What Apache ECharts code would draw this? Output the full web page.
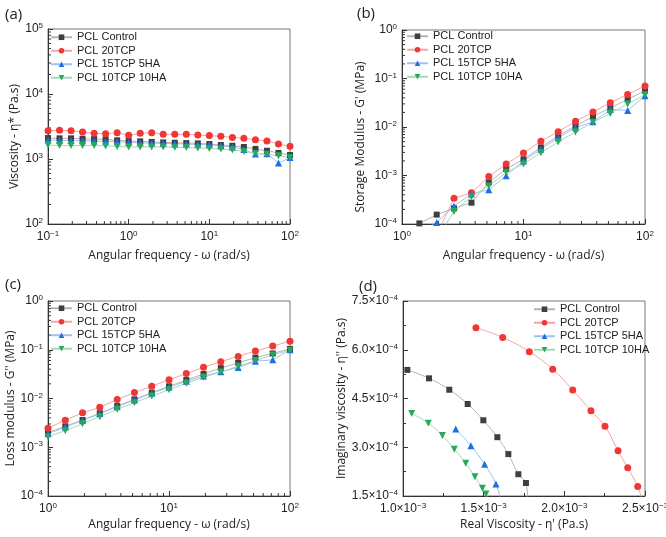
<!DOCTYPE html>
<html>
<head>
<meta charset="utf-8">
<script src="https://cdn.jsdelivr.net/npm/echarts@6/dist/echarts.min.js"></script>
<style>
  html, body { margin: 0; padding: 0; background: #fff; }
  #chart { width: 666px; height: 537px; }
</style>
</head>
<body>
<div id="chart"></div>
<script>
// series names / symbols
const names = ['PCL Control', 'PCL 20TCP', 'PCL 15TCP 5HA', 'PCL 10TCP 10HA'];

// (a) complex viscosity vs angular frequency
const omegaA = [0.1, 0.139, 0.193, 0.268, 0.373, 0.518, 0.72, 1, 1.39, 1.93, 2.68, 3.73, 5.18, 7.2, 10, 13.9, 19.3, 26.8, 37.3, 51.8, 72, 100];
const ctrlA = [2100, 2080, 2080, 2050, 2030, 2010, 1940, 1890, 1870, 1830, 1800, 1780, 1760, 1740, 1700, 1640, 1600, 1530, 1430, 1340, 1240, 1150];
const tcpA = [2730, 2760, 2730, 2600, 2480, 2450, 2540, 2310, 2480, 2540, 2400, 2400, 2400, 2340, 2290, 2230, 2150, 2080, 1980, 1890, 1700, 1570];
const ha5A = [1960, 1950, 1920, 1910, 1890, 1870, 1850, 1800, 1780, 1760, 1740, 1720, 1700, 1680, 1650, 1600, 1530, 1400, 1190, 1200, 870, 1050];
const ha10A = [1640, 1610, 1610, 1610, 1610, 1590, 1560, 1530, 1530, 1530, 1530, 1510, 1500, 1480, 1450, 1420, 1380, 1310, 1220, 1180, 1120, 1050];

// (b) storage modulus
const omegaB = [1, 1.39, 1.93, 2.68, 3.73, 5.18, 7.2, 10, 13.9, 19.3, 26.8, 37.3, 51.8, 72, 100];
const ctrlB = [5e-5, 1.03e-4, 1.56e-4, 2.1e-4, 2.75e-4, 7.2e-4, 1.36e-3, 2.16e-3, 3.8e-3, 6.6e-3, 1.05e-2, 1.63e-2, 2.5e-2, 3.7e-2, 5.6e-2];
const tcpB = [3e-5, 5e-5, 6e-5, 3.4e-4, 4.4e-4, 9.5e-4, 1.73e-3, 2.9e-3, 5.1e-3, 8.0e-3, 1.31e-2, 2.04e-2, 3.17e-2, 4.7e-2, 7.0e-2];
const ha5B = [4e-5, 7e-5, 1.08e-4, 2.36e-4, 4.16e-4, 5.1e-4, 9.9e-4, 2.0e-3, 3.47e-3, 6.0e-3, 9.7e-3, 1.28e-2, 2.3e-2, 2.2e-2, 4.4e-2];
const ha10B = [3e-5, 4e-5, 5e-5, 1.8e-4, 3.65e-4, 6.1e-4, 1.16e-3, 1.73e-3, 2.95e-3, 4.9e-3, 7.9e-3, 1.25e-2, 1.9e-2, 2.98e-2, 4.6e-2];

// (c) loss modulus
const omegaC = [1, 1.39, 1.93, 2.68, 3.73, 5.18, 7.2, 10, 13.9, 19.3, 26.8, 37.3, 51.8, 72, 100];
const ctrlC = [1.99e-3, 2.69e-3, 3.62e-3, 5.0e-3, 7.0e-3, 9.6e-3, 1.32e-2, 1.78e-2, 2.39e-2, 3.18e-2, 4.2e-2, 5.4e-2, 6.9e-2, 8.4e-2, 0.104];
const tcpC = [2.45e-3, 3.6e-3, 5.1e-3, 6.6e-3, 9.5e-3, 1.32e-2, 1.78e-2, 2.43e-2, 3.24e-2, 4.37e-2, 5.7e-2, 7.3e-2, 9.4e-2, 0.119, 0.149];
const ha5C = [1.9e-3, 2.6e-3, 3.55e-3, 4.9e-3, 6.8e-3, 9.3e-3, 1.28e-2, 1.7e-2, 2.25e-2, 2.9e-2, 3.55e-2, 4.3e-2, 5.8e-2, 6.2e-2, 0.1];
const ha10C = [1.65e-3, 2.19e-3, 3.04e-3, 4.24e-3, 6.0e-3, 8.2e-3, 1.12e-2, 1.51e-2, 2.05e-2, 2.72e-2, 3.5e-2, 4.57e-2, 6.0e-2, 7.8e-2, 0.098];

// (d) Cole-Cole: real vs imaginary viscosity
const ctrlDx = [1.027e-3, 1.161e-3, 1.287e-3, 1.401e-3, 1.498e-3, 1.585e-3, 1.653e-3, 1.715e-3, 1.762e-3, 1.775e-3];
const ctrlDy = [5.38e-4, 5.12e-4, 4.77e-4, 4.33e-4, 3.83e-4, 3.31e-4, 2.79e-4, 2.17e-4, 1.90e-4, 1.2e-4];
const tcpDx = [1.452e-3, 1.618e-3, 1.783e-3, 1.928e-3, 2.052e-3, 2.165e-3, 2.252e-3, 2.333e-3, 2.393e-3, 2.455e-3, 2.49e-3];
const tcpDy = [6.68e-4, 6.38e-4, 5.94e-4, 5.40e-4, 4.76e-4, 4.12e-4, 3.65e-4, 2.89e-4, 2.37e-4, 1.79e-4, 1.2e-4];
const ha5Dx = [1.327e-3, 1.421e-3, 1.506e-3, 1.576e-3, 1.615e-3];
const ha5Dy = [3.56e-4, 3.05e-4, 2.475e-4, 1.87e-4, 1.2e-4];
const ha10Dx = [1.054e-3, 1.157e-3, 1.244e-3, 1.318e-3, 1.389e-3, 1.446e-3, 1.492e-3, 1.514e-3, 1.535e-3];
const ha10Dy = [4.04e-4, 3.74e-4, 3.36e-4, 2.94e-4, 2.51e-4, 2.09e-4, 1.74e-4, 1.56e-4, 1.2e-4];

const symbols = ['rect', 'circle', 'triangle', 'path://M0,0L10,0L5,8.66Z'];
const symbolSizes = [6, 7, 7, 7];
const markColors = ['#3f3f3f', '#f23535', '#1c6fe8', '#27a85a'];
const lineColors = ['#b5b5b5', '#f6a3a3', '#9cc2f2', '#a3dbb6'];

const chart = echarts.init(document.getElementById('chart'));

const zip = (xs, ys) => xs.map((x, i) => [x, ys[i]]);

function sup(e) {
  return e < 0 ? '\u2212' + (-e) : '' + e;
}
function powLabel(v) {
  const e = Math.round(Math.log10(v));
  return '10{s|' + sup(e) + '}';
}
const rich = {
  s: { fontSize: 8, verticalAlign: 'top', padding: [0, 0, 6, 0], fontFamily: 'Liberation Sans', color: '#222' },
  gap: { width: 20, color: 'rgba(0,0,0,0)' }
};

const labelFont = 'Liberation Sans';
const nameFont = 'Open Sans';
const nameStyle = { fontFamily: nameFont, fontSize: 12, color: '#222', rich: rich };

function logAxis(idx, min, max, name, gap, isX) {
  return {
    type: 'log', logBase: 10, gridIndex: idx, min: min, max: max,
    name: name, nameLocation: 'middle', nameGap: gap,
    nameTextStyle: nameStyle,
    axisLine: { show: true, lineStyle: { color: '#333', width: 1 } },
    axisTick: { show: true, inside: true, length: 5, lineStyle: { color: '#333' } },
    splitLine: { show: false },
    axisLabel: { formatter: powLabel, rich: rich, fontFamily: labelFont, fontSize: 12, color: '#222', margin: isX ? 6 : 5 }
  };
}

function sciAxis(idx, min, max, interval, exp, name, gap, isX) {
  return {
    type: 'value', gridIndex: idx, min: min, max: max, interval: interval,
    name: name, nameLocation: 'middle', nameGap: gap,
    nameTextStyle: nameStyle,
    axisLine: { show: true, lineStyle: { color: '#333', width: 1 } },
    axisTick: { show: true, inside: true, length: 5, lineStyle: { color: '#333' } },
    minorTick: { show: true, splitNumber: 2, length: 3, lineStyle: { color: '#333' } },
    splitLine: { show: false },
    axisLabel: {
      formatter: function (v) { return (v / Math.pow(10, exp)).toFixed(1) + '\u00d710{s|' + sup(exp) + '}'; },
      rich: rich, fontFamily: labelFont, fontSize: 12, color: '#222', margin: isX ? 6 : 5
    }
  };
}

function line(idx, k, data, smooth) {
  return {
    name: names[k], type: 'line', xAxisIndex: idx, yAxisIndex: idx,
    data: data, symbol: symbols[k], symbolSize: symbolSizes[k],
    smooth: smooth ? 0.4 : false,
    itemStyle: { color: markColors[k] },
    lineStyle: { color: lineColors[k], width: 1 },
    clip: true, animation: false
  };
}

// minor ticks of the log axes (2..9 x 10^k), drawn through the axis scales
function decadeTicks(lo, hi) {
  const out = [];
  for (let e = lo; e < hi; e++) {
    for (let m = 2; m <= 9; m++) out.push(m * Math.pow(10, e));
  }
  return out;
}
function minorTicks(idx, xLo, xHi, yLo, yHi) {
  const xMin = Math.pow(10, xLo), yMin = Math.pow(10, yLo);
  const data = decadeTicks(xLo, xHi).map(v => [v, yMin, 0])
    .concat(decadeTicks(yLo, yHi).map(v => [xMin, v, 1]));
  return {
    type: 'custom', xAxisIndex: idx, yAxisIndex: idx, silent: true, animation: false, clip: false,
    data: data,
    renderItem: function (params, api) {
      const p = api.coord([api.value(0), api.value(1)]);
      const vertical = api.value(2) === 0;
      return {
        type: 'line',
        shape: vertical ? { x1: p[0], y1: p[1], x2: p[0], y2: p[1] - 3 } : { x1: p[0], y1: p[1], x2: p[0] + 3, y2: p[1] },
        style: { stroke: '#333', lineWidth: 1 }
      };
    }
  };
}

function legend(left, top) {
  return {
    data: names, orient: 'vertical', left: left, top: top,
    itemWidth: 21, itemHeight: 7, itemGap: 1,
    textStyle: { fontFamily: labelFont, fontSize: 11, color: '#222', lineHeight: 12.5 },
    selectedMode: false
  };
}

const gridBox = { show: true, borderColor: '#777', borderWidth: 1, containLabel: false, outerBoundsMode: 'none' };

const option = {
  backgroundColor: '#fff',
  title: [
    { text: '(a)', left: 0, top: 2 },
    { text: '(b)', left: 352, top: 1 },
    { text: '(c)', left: 0, top: 272 },
    { text: '(d)', left: 354, top: 274 }
  ].map(t => Object.assign(t, { textStyle: { fontFamily: nameFont, fontSize: 15, fontWeight: 'normal', color: '#222' } })),
  legend: [legend(45, 26), legend(401, 25), legend(45, 297), legend(528, 298)],
  grid: [
    Object.assign({ left: 48, top: 29, width: 242, height: 195 }, gridBox),
    Object.assign({ left: 402, top: 30, width: 243, height: 194 }, gridBox),
    Object.assign({ left: 48, top: 301, width: 242, height: 195 }, gridBox),
    Object.assign({ left: 403, top: 301, width: 242, height: 195 }, gridBox)
  ],
  xAxis: [
    logAxis(0, 0.1, 100, 'Angular frequency - \u03c9 (rad/s)', 26, true),
    logAxis(1, 1, 100, 'Angular frequency - \u03c9 (rad/s)', 26, true),
    logAxis(2, 1, 100, 'Angular frequency - \u03c9 (rad/s)', 23, true),
    sciAxis(3, 1.0e-3, 2.5e-3, 0.5e-3, -3, 'Real Viscosity - \u03b7\' (Pa.s)', 23, true)
  ],
  yAxis: [
    logAxis(0, 100, 100000, 'Viscosity - \u03b7* (Pa.s){gap|.}', 27, false),
    logAxis(1, 1e-4, 1, 'Storage Modulus - G\' (MPa){gap|.}', 35, false),
    logAxis(2, 1e-4, 1, 'Loss modulus - G\'\' (MPa)', 27, false),
    sciAxis(3, 1.5e-4, 7.5e-4, 1.5e-4, -4, 'Imaginary viscosity - \u03b7\'\' (Pa.s)', 45, false)
  ],
  series: [
    minorTicks(0, -1, 2, 2, 5), minorTicks(1, 0, 2, -4, 0), minorTicks(2, 0, 2, -4, 0),
    line(0, 0, zip(omegaA, ctrlA)), line(0, 1, zip(omegaA, tcpA)), line(0, 2, zip(omegaA, ha5A)), line(0, 3, zip(omegaA, ha10A)),
    line(1, 0, zip(omegaB, ctrlB)), line(1, 1, zip(omegaB, tcpB)), line(1, 2, zip(omegaB, ha5B)), line(1, 3, zip(omegaB, ha10B)),
    line(2, 0, zip(omegaC, ctrlC)), line(2, 1, zip(omegaC, tcpC)), line(2, 2, zip(omegaC, ha5C)), line(2, 3, zip(omegaC, ha10C)),
    line(3, 0, zip(ctrlDx, ctrlDy), true), line(3, 1, zip(tcpDx, tcpDy), true), line(3, 2, zip(ha5Dx, ha5Dy), true), line(3, 3, zip(ha10Dx, ha10Dy), true)
  ]
};

chart.setOption(option);
</script>
</body>
</html>
